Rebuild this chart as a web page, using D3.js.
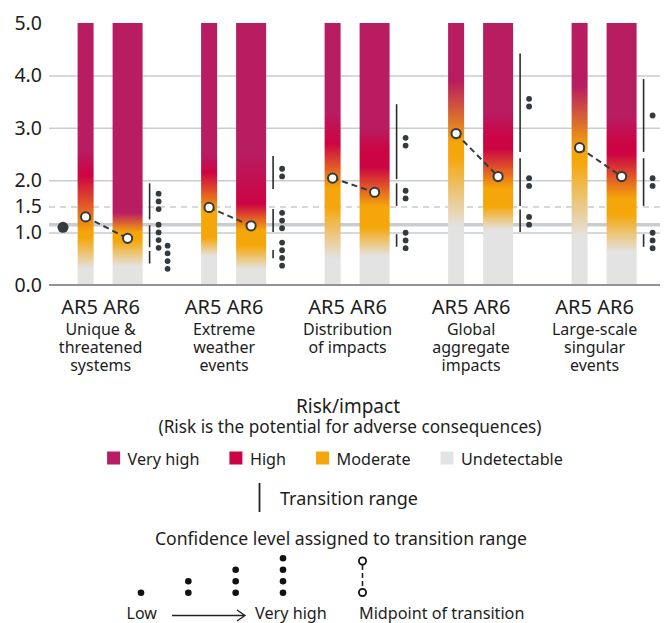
<!DOCTYPE html>
<html>
<head>
<meta charset="utf-8">
<script src="https://cdn.jsdelivr.net/npm/d3@7"></script>
<style>
  body { margin: 0; background: #fff; }
  svg { display: block; }
</style>
</head>
<body>
<div id="wrapper"></div>
<script>
// reasons for concern, AR5 vs AR6
const groupNames = [
  "Unique & threatened systems",
  "Extreme weather events",
  "Distribution of impacts",
  "Global aggregate impacts",
  "Large-scale singular events",
];
const groupLabels = [
  ["Unique &", "threatened", "systems"],
  ["Extreme", "weather", "events"],
  ["Distribution", "of impacts"],
  ["Global", "aggregate", "impacts"],
  ["Large-scale", "singular", "events"],
];
const yTicks = [0, 1, 1.5, 2, 3, 4, 5];

const riskLevels = ["Undetectable", "Moderate", "High", "Very high"];
const riskColors = ["#e3e3e3", "#f5a60a", "#cc0444", "#b81c61"];

// ember colour stops: [warming level, risk level index]
const ar5Embers = [
  [[0.3, 0], [0.9, 1], [1.0, 1], [2.1, 2], [2.55, 3]],
  [[0.55, 0], [0.9, 1], [1.4, 1], [2.15, 2], [2.5, 3]],
  [[0.5, 0], [1.5, 1], [1.85, 1], [2.7, 2], [3.3, 3]],
  [[1.1, 0], [2.45, 1], [2.7, 1], [3.9, 3]],
  [[0.9, 0], [2.35, 1], [2.6, 1], [3.8, 3]],
];
const ar6Embers = [
  [[0.35, 0], [0.85, 1], [1.0, 1], [1.38, 3]],
  [[0.3, 0], [0.75, 1], [1.05, 1], [1.55, 2], [2.5, 3]],
  [[0.55, 0], [1.1, 1], [1.5, 1], [2.25, 2], [2.55, 2], [3.0, 3]],
  [[1.05, 0], [1.5, 1], [1.85, 1], [2.6, 2], [2.8, 2], [3.3, 3]],
  [[0.62, 0], [1.35, 1], [1.65, 1], [2.5, 2], [2.7, 2], [3.2, 3]],
];

const ar5Midpoints = [1.3, 1.48, 2.04, 2.89, 2.62];
const ar6Midpoints = [0.89, 1.13, 1.77, 2.07, 2.07];

// AR6 transition ranges [low, high] and confidence (number of dots)
const transitionRanges = [
  [[1.25, 1.94], [0.72, 1.14], [0.41, 0.65]],
  [[1.83, 2.46], [1.01, 1.45], [0.51, 0.67]],
  [[2.02, 3.45], [1.51, 1.94], [0.73, 0.97]],
  [[2.54, 4.42], [1.51, 2.42], [1.01, 1.44]],
  [[2.54, 3.93], [1.51, 2.42], [0.73, 0.97]],
];
const transitionConfidence = [
  [3, 4, 4],
  [2, 3, 4],
  [2, 2, 3],
  [2, 2, 2],
  [1, 2, 3],
];

const recentWarmingLine = 1.15;
const recentWarmingDot = 1.1;
const confidenceLevels = [1, 2, 3, 4];

function drawEmbers() {
  //* dimensions
  const dimensions = {
    width: 664,
    height: 623,
    plotLeft: 49,
    plotRight: 660,
    plotTop: 23,
    plotBottom: 285,
  };
  const font = "'Noto Sans', sans-serif";
  const ink = "#1d1d1b";
  const markInk = "#353a3f";
  const gridColor = "#c9cdd1";

  const wrapper = d3
    .select("#wrapper")
    .append("svg")
    .attr("width", dimensions.width)
    .attr("height", dimensions.height)
    .style("font-family", font);

  //* scales
  const yScale = d3
    .scaleLinear()
    .domain([0, 5])
    .range([dimensions.plotBottom, dimensions.plotTop]);

  const groupStep = 123.5;
  const firstGroup = 77.6;
  const xScale = d3
    .scaleBand()
    .domain(groupNames)
    .range([firstGroup, firstGroup + groupStep * groupNames.length]);

  const bars = {
    AR5: { offset: 0, width: 16 },
    AR6: { offset: 35, width: 30 },
  };
  const rangeOffset = 72;
  const dotOffset = 81;
  const dotColumnStep = 9;
  const dotStep = 7.7;
  const dotRadius = 2.9;

  const riskColor = d3.scaleOrdinal().domain(d3.range(4)).range(riskColors);

  //* gridlines + y axis
  const yAxisGenerator = d3
    .axisLeft(yScale)
    .tickValues(yTicks)
    .tickFormat(d3.format(".1f"))
    .tickSize(-(dimensions.plotRight - dimensions.plotLeft))
    .tickPadding(7);

  const yAxis = wrapper
    .append("g")
    .attr("transform", `translate(${dimensions.plotLeft},0)`)
    .call(yAxisGenerator)
    .attr("font-family", font)
    .attr("font-size", 19.5);
  yAxis.select(".domain").remove();
  yAxis
    .selectAll(".tick line")
    .attr("stroke", gridColor)
    .attr("stroke-width", 1.5)
    .attr("stroke-dasharray", (d) => (d === 1.5 ? "6,5" : null))
    .attr("stroke-opacity", (d) => (d === 5 || d === 0 ? 0 : 1));
  yAxis.selectAll(".tick text").attr("fill", ink);

  wrapper
    .append("line")
    .attr("x1", dimensions.plotLeft)
    .attr("x2", dimensions.plotRight)
    .attr("y1", yScale(recentWarmingLine))
    .attr("y2", yScale(recentWarmingLine))
    .attr("stroke", gridColor)
    .attr("stroke-width", 3.5);

  //* embers
  const barData = groupNames.flatMap((g, i) => [
    { group: g, i, version: "AR5", stops: ar5Embers[i] },
    { group: g, i, version: "AR6", stops: ar6Embers[i] },
  ]);

  const span = yScale(0) - yScale(5);
  const defs = wrapper.append("defs");
  defs
    .selectAll("linearGradient")
    .data(barData)
    .join("linearGradient")
    .attr("id", (d) => `ember-${d.i}-${d.version}`)
    .attr("gradientUnits", "userSpaceOnUse")
    .attr("x1", 0)
    .attr("x2", 0)
    .attr("y1", yScale(0))
    .attr("y2", yScale(5))
    .selectAll("stop")
    .data((d) => d.stops)
    .join("stop")
    .attr("offset", (s) => (yScale(0) - yScale(s[0])) / span)
    .attr("stop-color", (s) => riskColor(s[1]));

  wrapper
    .append("g")
    .selectAll("rect")
    .data(barData)
    .join("rect")
    .attr("x", (d) => xScale(d.group) + bars[d.version].offset)
    .attr("y", yScale(5))
    .attr("width", (d) => bars[d.version].width)
    .attr("height", span)
    .attr("fill", (d) => `url(#ember-${d.i}-${d.version})`);

  wrapper
    .append("line")
    .attr("x1", dimensions.plotLeft)
    .attr("x2", dimensions.plotRight)
    .attr("y1", yScale(0))
    .attr("y2", yScale(0))
    .attr("stroke", "#909498")
    .attr("stroke-width", 2);

  //* recent warming dot
  wrapper
    .append("circle")
    .attr("cx", firstGroup - 14.6)
    .attr("cy", yScale(recentWarmingDot))
    .attr("r", 5.5)
    .attr("fill", markInk);

  //* midpoint connectors
  const centerOf = (g, v) => xScale(g) + bars[v].offset + bars[v].width / 2;
  const midGroups = wrapper
    .append("g")
    .selectAll("g")
    .data(groupNames)
    .join("g");

  midGroups
    .append("line")
    .attr("x1", (g) => centerOf(g, "AR5"))
    .attr("y1", (g, i) => yScale(ar5Midpoints[i]))
    .attr("x2", (g) => centerOf(g, "AR6"))
    .attr("y2", (g, i) => yScale(ar6Midpoints[i]))
    .attr("stroke", markInk)
    .attr("stroke-width", 2)
    .attr("stroke-dasharray", "6,4");

  midGroups
    .selectAll("circle")
    .data((g, i) => [
      { x: centerOf(g, "AR5"), v: ar5Midpoints[i] },
      { x: centerOf(g, "AR6"), v: ar6Midpoints[i] },
    ])
    .join("circle")
    .attr("cx", (d) => d.x)
    .attr("cy", (d) => yScale(d.v))
    .attr("r", 4.6)
    .attr("fill", "#fff")
    .attr("stroke", markInk)
    .attr("stroke-width", 2);

  //* transition ranges + confidence dots
  const rangeData = groupNames.flatMap((g, i) =>
    transitionRanges[i].map((r, k) => ({
      group: g,
      low: r[0],
      high: r[1],
      conf: transitionConfidence[i][k],
    }))
  );

  wrapper
    .append("g")
    .selectAll("line")
    .data(rangeData)
    .join("line")
    .attr("x1", (d) => xScale(d.group) + rangeOffset)
    .attr("x2", (d) => xScale(d.group) + rangeOffset)
    .attr("y1", (d) => yScale(d.high))
    .attr("y2", (d) => yScale(d.low))
    .attr("stroke", "#2b2b2b")
    .attr("stroke-width", 1.6);

  // stack dots beside each range; move to a second column if they would touch
  const dotData = [];
  groupNames.forEach((g) => {
    const placed = [];
    rangeData
      .filter((d) => d.group === g)
      .forEach((d) => {
        const mid = yScale((d.low + d.high) / 2);
        const ys = d3.range(d.conf).map((j) => mid + (j - (d.conf - 1) / 2) * dotStep);
        const top = d3.min(ys);
        const bottom = d3.max(ys);
        let col = 0;
        while (
          placed.some(
            (p) => p.col === col && top < p.bottom + dotStep && bottom > p.top - dotStep
          )
        )
          col++;
        placed.push({ col, top, bottom });
        ys.forEach((y) =>
          dotData.push({ x: xScale(g) + dotOffset + col * dotColumnStep, y })
        );
      });
  });

  wrapper
    .append("g")
    .selectAll("circle")
    .data(dotData)
    .join("circle")
    .attr("cx", (d) => d.x)
    .attr("cy", (d) => d.y)
    .attr("r", dotRadius)
    .attr("fill", markInk);

  //* category labels
  const labels = wrapper
    .append("g")
    .attr("fill", ink)
    .attr("text-anchor", "middle")
    .selectAll("g")
    .data(groupNames)
    .join("g")
    .attr("transform", (g) => `translate(${xScale(g) + 23},0)`);

  labels
    .append("text")
    .attr("y", 314)
    .style("font-size", "20px")
    .text("AR5 AR6");

  labels
    .selectAll(".sub")
    .data((g, i) => groupLabels[i])
    .join("text")
    .attr("class", "sub")
    .attr("y", (d, k) => 335 + k * 17.8)
    .style("font-size", "16px")
    .text((d) => d);

  //* legend
  const legend = wrapper.append("g").attr("fill", ink);

  legend
    .append("text")
    .attr("x", 348)
    .attr("y", 412.5)
    .attr("text-anchor", "middle")
    .style("font-size", "19px")
    .text("Risk/impact");

  legend
    .append("text")
    .attr("x", 350)
    .attr("y", 433)
    .attr("text-anchor", "middle")
    .style("font-size", "17.2px")
    .text("(Risk is the potential for adverse consequences)");

  const keyOrder = [3, 2, 1, 0];
  const keyRow = legend.append("g");
  const keyItems = keyRow
    .selectAll("g")
    .data(keyOrder)
    .join("g");
  keyItems
    .append("rect")
    .attr("y", 451.5)
    .attr("width", 13)
    .attr("height", 13)
    .attr("fill", (d) => riskColor(d));
  keyItems
    .append("text")
    .attr("x", 20.5)
    .attr("y", 465)
    .style("font-size", "16.2px")
    .text((d) => riskLevels[d]);

  let cursor = 0;
  keyItems.each(function () {
    const item = d3.select(this);
    item.attr("transform", `translate(${cursor},0)`);
    cursor += 20.5 + item.select("text").node().getComputedTextLength() + 30;
  });
  const rowWidth = cursor - 30;
  keyRow.attr("transform", `translate(${335 - rowWidth / 2},0)`);

  legend
    .append("line")
    .attr("x1", 259.5)
    .attr("x2", 259.5)
    .attr("y1", 483)
    .attr("y2", 512)
    .attr("stroke", "#222")
    .attr("stroke-width", 1.8);
  legend
    .append("text")
    .attr("x", 280)
    .attr("y", 504.5)
    .style("font-size", "18px")
    .text("Transition range");

  legend
    .append("text")
    .attr("x", 341)
    .attr("y", 545)
    .attr("text-anchor", "middle")
    .style("font-size", "17.6px")
    .text("Confidence level assigned to transition range");

  const confX = d3.scalePoint().domain(confidenceLevels).range([141, 283]);
  legend
    .append("g")
    .selectAll("circle")
    .data(confidenceLevels.flatMap((c) => d3.range(c).map((j) => ({ c, j }))))
    .join("circle")
    .attr("cx", (d) => confX(d.c))
    .attr("cy", (d) => 592.7 - d.j * 11.5)
    .attr("r", 3.3)
    .attr("fill", "#111");

  legend
    .append("path")
    .attr("d", "M172,615.5H245M237,610L245,615.5L237,621")
    .attr("fill", "none")
    .attr("stroke", "#222")
    .attr("stroke-width", 1.3);

  legend.append("text").attr("x", 126.5).attr("y", 619).style("font-size", "16px").text("Low");
  legend.append("text").attr("x", 255).attr("y", 619).style("font-size", "16.2px").text("Very high");

  legend
    .append("line")
    .attr("x1", 362.5)
    .attr("x2", 362.5)
    .attr("y1", 565)
    .attr("y2", 588.5)
    .attr("stroke", "#222")
    .attr("stroke-width", 1.6)
    .attr("stroke-dasharray", "5,3");
  legend
    .selectAll(".mid-icon")
    .data([561, 592.5])
    .join("circle")
    .attr("class", "mid-icon")
    .attr("cx", 362.5)
    .attr("cy", (d) => d)
    .attr("r", 3.6)
    .attr("fill", "#fff")
    .attr("stroke", "#111")
    .attr("stroke-width", 1.8);
  legend
    .append("text")
    .attr("x", 359)
    .attr("y", 619)
    .style("font-size", "16.2px")
    .text("Midpoint of transition");
}

drawEmbers();
</script>
</body>
</html>
